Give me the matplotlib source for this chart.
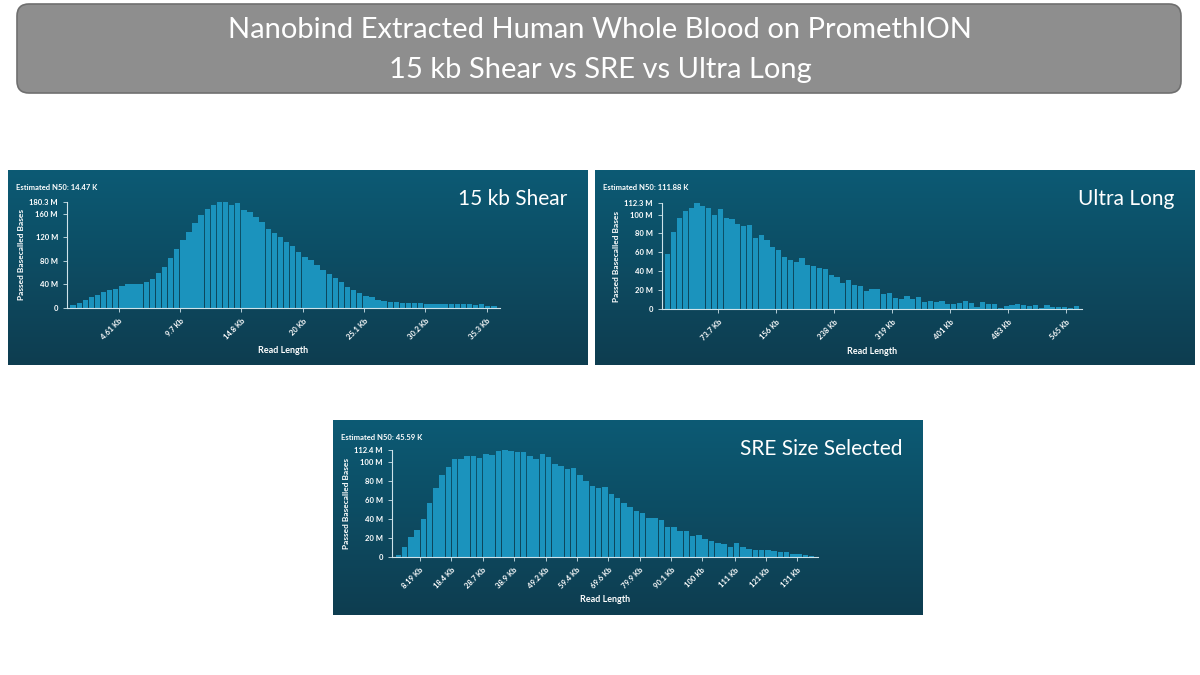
import numpy as np
import matplotlib.pyplot as plt
from matplotlib.patches import FancyBboxPatch
from matplotlib.colors import LinearSegmentedColormap

# 15 kb shear (M bases per bin)
shear_vals = [5, 9, 13, 18, 22, 27, 31, 33, 37, 40, 40, 41, 45, 50, 60, 70, 85, 100, 115, 130,
              145, 158, 168, 175, 180, 180, 175, 178, 166, 164, 155, 147, 135, 128, 120, 113, 105, 96, 87, 81,
              73, 65, 58, 51, 45, 36, 31, 26, 21, 18, 14, 12, 11, 10, 9, 8, 8, 8, 7, 6,
              7, 7, 7, 6, 6, 6, 5, 6, 4, 4]
shear_ticks = [4.61, 9.7, 14.8, 20, 25.1, 30.2, 35.3]

ul_vals = [58, 82, 96, 104, 107, 112, 109, 107, 100, 106, 96, 95, 90, 88, 89, 75, 78, 73, 66, 63,
           55, 52, 50, 54, 47, 46, 43, 42, 36, 34, 28, 31, 25, 24, 19, 21, 21, 16, 17, 12,
           11, 14, 11, 13, 7, 9, 7, 8, 5, 5, 6, 8, 6, 2, 7, 5, 5, 1, 3, 4,
           5, 4, 3, 4, 1, 4, 2, 2, 2, 1, 3]
ul_ticks = [73.7, 156, 238, 319, 401, 483, 565]

sre_vals = [2, 10, 21, 28, 40, 57, 72, 86, 95, 103, 103, 106, 106, 104, 108, 107, 111, 112, 111, 110,
            110, 106, 103, 108, 105, 98, 96, 92, 94, 86, 80, 75, 73, 74, 66, 62, 57, 53, 48, 46,
            41, 41, 39, 32, 31, 27, 27, 22, 23, 19, 17, 15, 14, 11, 15, 10, 8, 7, 7, 7,
            6, 5, 5, 3, 3, 2, 1]
sre_ticks = [8.19, 18.4, 28.7, 38.9, 49.2, 59.4, 69.6, 79.9, 90.1, 100, 111, 121, 131]

W, H = 1200, 675
plt.rcParams['font.family'] = ['Lato', 'DejaVu Sans']
fig = plt.figure(figsize=(12, 6.75), dpi=100)
fig.patch.set_facecolor('white')


def rect(x0, y0, x1, y1):
    return [x0 / W, 1 - y1 / H, (x1 - x0) / W, (y1 - y0) / H]


# title box
tax = fig.add_axes([0, 0, 1, 1])
tax.set_xlim(0, W)
tax.set_ylim(H, 0)
tax.axis('off')
tax.add_patch(FancyBboxPatch((17, 4), 1164, 89, boxstyle='round,pad=0,rounding_size=12',
                             fc='#8e8e8e', ec='#6f6f6f', lw=1.2))
tax.text(W / 2, 30, 'Nanobind Extracted Human Whole Blood on PromethION', ha='center', va='center',
         color='white', fontsize=21, fontweight='normal')
tax.text(W / 2, 70, '15 kb Shear vs SRE vs Ultra Long', ha='center', va='center',
         color='white', fontsize=21, fontweight='normal')

grad = np.linspace(0, 1, 100).reshape(-1, 1)
cmap = LinearSegmentedColormap.from_list('bg', ['#0c5a74', '#0e3d50'])


def panel(box, axbox, vals, start, width, ticks, ymax, ytop_lbl, n50, label):
    bg = fig.add_axes(rect(*box))
    bg.imshow(grad, aspect='auto', cmap=cmap, extent=[0, 1, 0, 1])
    bg.set_xlim(0, 1)
    bg.set_ylim(0, 1)
    bg.axis('off')
    bg.text(0.013, 0.9, 'Estimated N50: ' + n50, color='white', fontsize=5.5, fontweight='bold',
            transform=bg.transAxes)
    bg.text(0.965, 0.82, label, color='white', fontsize=15, fontweight='normal', ha='right',
            transform=bg.transAxes)
    ax = fig.add_axes(rect(*axbox))
    ax.patch.set_alpha(0)
    x = start + width * np.arange(len(vals))
    ax.bar(x, vals, width=width * 0.88, color='#1b93bd')
    ax.set_xlim(x[0] - width, x[-1] + width)
    ax.set_ylim(0, ymax)
    yt = list(range(0, int(ymax) - 8, 20 if ymax < 150 else 40))
    ax.set_yticks(yt + [ymax])
    ax.set_yticklabels(['0'] + ['%d M' % v for v in yt[1:]] + [ytop_lbl])
    ax.set_xticks(ticks)
    ax.set_xticklabels(['%g Kb' % t for t in ticks], rotation=45, ha='right', rotation_mode='anchor')
    for s in ['top', 'right']:
        ax.spines[s].set_visible(False)
    for s in ['left', 'bottom']:
        ax.spines[s].set_color('#cfe3ea')
        ax.spines[s].set_linewidth(0.8)
    ax.tick_params(colors='#cfe3ea', labelcolor='white', labelsize=5.5, length=3, width=0.6)
    for t in ax.get_xticklabels() + ax.get_yticklabels():
        t.set_fontweight('bold')
    ax.set_ylabel('Passed Basecalled Bases', color='white', fontsize=6, fontweight='bold', labelpad=3)
    ax.set_xlabel('Read Length', color='white', fontsize=6.5, fontweight='bold', labelpad=4)
    return ax


panel((8, 170, 588, 365), (67, 202, 500, 308), shear_vals, 0.79, 0.509, shear_ticks,
      180.3, '180.3 M', '14.47 K', '15 kb Shear')
panel((595, 170, 1195, 365), (662, 203, 1082, 309), ul_vals, 2.9, 8.23, ul_ticks,
      112.3, '112.3 M', '111.88 K', 'Ultra Long')
panel((333, 420, 923, 615), (392, 450, 818, 557), sre_vals, 1.25, 2.04, sre_ticks,
      112.4, '112.4 M', '45.59 K', 'SRE Size Selected')

fig.savefig('out.png', dpi=100)
